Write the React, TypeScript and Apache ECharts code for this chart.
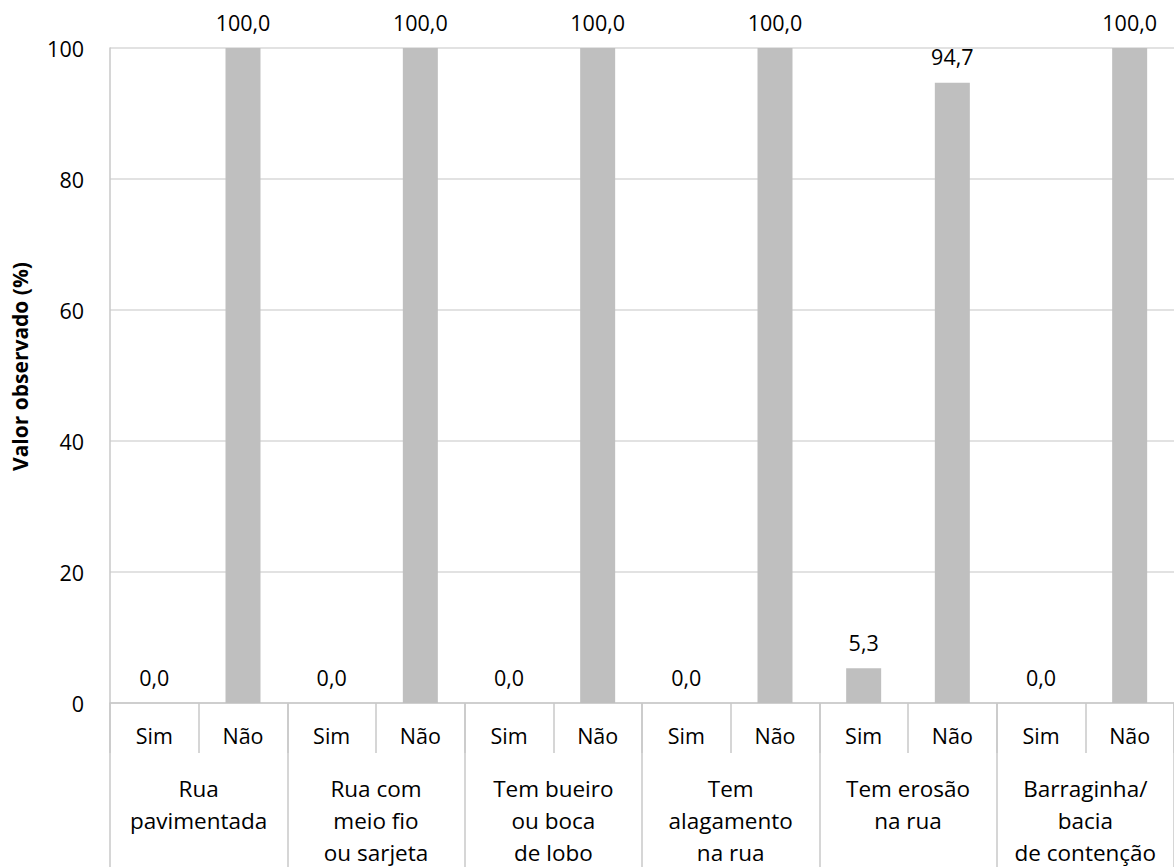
import React, { useEffect, useRef } from "react";
import * as echarts from "echarts";

const groups = [
  "Rua\npavimentada",
  "Rua com\nmeio fio\nou sarjeta",
  "Tem bueiro\nou boca\nde lobo",
  "Tem\nalagamento\nna rua",
  "Tem erosão\nna rua",
  "Barraginha/\nbacia\nde contenção",
];
const answers = ["Sim", "Não"];
const subLabels = groups.flatMap(() => answers);
const values = [0.0, 100.0, 0.0, 100.0, 0.0, 100.0, 0.0, 100.0, 5.3, 94.7, 0.0, 100.0];
const yTicks = { min: 0, max: 100, interval: 20 };
const yTitle = "Valor observado (%)";

const FONT = "'Open Sans', sans-serif";

export default function App() {
  const ref = useRef<HTMLDivElement>(null);
  useEffect(() => {
    document.body.style.margin = "0";
    const chart = echarts.init(ref.current!, null, { renderer: "svg" });
    chart.setOption({
      animation: false,
      backgroundColor: "#ffffff",
      textStyle: { fontFamily: FONT },
      grid: { left: 110, right: 0, top: 48, bottom: 164, outerBoundsMode: "none", containLabel: false },
      xAxis: [
        {
          type: "category",
          data: subLabels,
          position: "bottom",
          axisLine: { show: true, lineStyle: { color: "#C8C8C8", width: 1.5 } },
          axisTick: { show: true, interval: 0, length: 50, lineStyle: { color: "#C8C8C8", width: 1.5 } },
          axisLabel: { interval: 0, color: "#000", fontSize: 21.5, fontFamily: FONT, margin: 22, lineHeight: 21 },
        },
        {
          type: "category",
          data: groups,
          position: "bottom",
          offset: 0,
          axisLine: { show: false },
          axisTick: { show: true, interval: 0, length: 164, lineStyle: { color: "#C8C8C8", width: 1.5 } },
          axisLabel: { interval: 0, color: "#000", fontSize: 22.5, fontFamily: FONT, margin: 69, lineHeight: 32 },
        },
      ],
      yAxis: {
        type: "value",
        min: yTicks.min,
        max: yTicks.max,
        interval: yTicks.interval,
        name: yTitle,
        nameLocation: "middle",
        nameRotate: 90,
        nameGap: 80,
        nameTextStyle: { fontSize: 21, fontWeight: "bold", color: "#000", fontFamily: FONT, padding: [0, 0, 0, 18] },
        axisLine: { show: true, lineStyle: { color: "#C8C8C8", width: 1.5 } },
        axisTick: { show: false },
        axisLabel: { color: "#000", fontSize: 21.5, fontFamily: FONT, margin: 26 },
        splitLine: { show: true, lineStyle: { color: "#D9D9D9", width: 1.5 } },
      },
      series: [
        {
          type: "bar",
          xAxisIndex: 0,
          data: values,
          barWidth: 35,
          itemStyle: { color: "#BFBFBF" },
          label: {
            show: true,
            position: "top",
            distance: 15,
            color: "#000",
            fontSize: 21.5,
            fontFamily: FONT,
            formatter: (p: any) => Number(p.value).toFixed(1).replace(".", ","),
          },
        },
      ],
    });
    return () => chart.dispose();
  }, []);
  return <div ref={ref} style={{ width: 1174, height: 867 }} />;
}
